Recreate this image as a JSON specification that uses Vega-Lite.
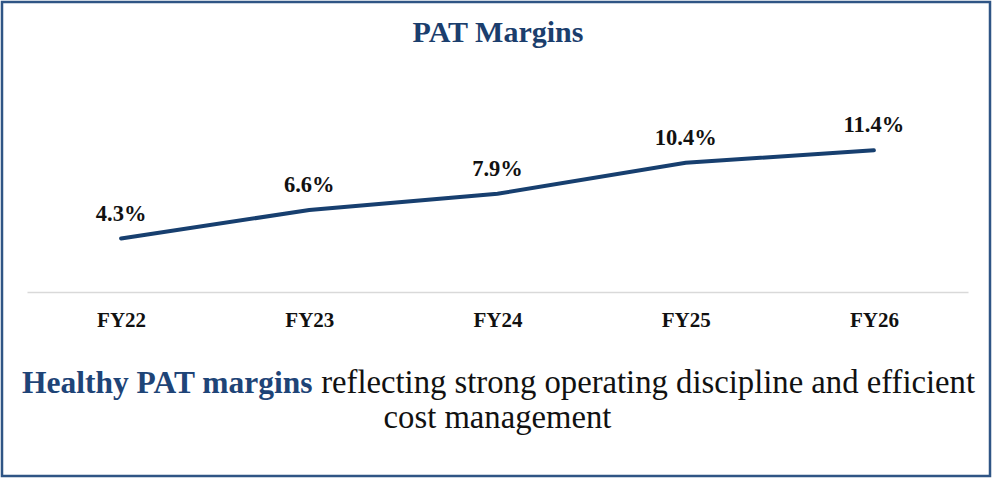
{
  "$schema": "https://vega.github.io/schema/vega-lite/v6.json",
  "width": 941,
  "height": 174,
  "autosize": "none",
  "padding": {"left": 27, "top": 118, "right": 24, "bottom": 186},
  "background": "white",
  "config": {"view": {"stroke": null}},
  "data": {"values": [
    {"year": "FY22", "pat": 0.043},
    {"year": "FY23", "pat": 0.066},
    {"year": "FY24", "pat": 0.079},
    {"year": "FY25", "pat": 0.104},
    {"year": "FY26", "pat": 0.114}
  ]},
  "layer": [
    {
      "data": {"values": [{}]},
      "mark": {"type": "rect", "filled": false, "stroke": "#2f5585", "strokeWidth": 2.5},
      "encoding": {"x": {"value": -25}, "x2": {"value": 963}, "y": {"value": -116}, "y2": {"value": 358}}
    },
    {
      "mark": {"type": "line", "color": "#173f6f", "strokeWidth": 4, "strokeCap": "round"},
      "encoding": {
        "x": {"field": "year", "type": "nominal", "sort": null,
          "axis": {"title": null, "labelAngle": 0, "ticks": false, "grid": false, "domainColor": "#d9d9d9", "domainWidth": 1.5,
            "labelFont": "Liberation Serif", "labelFontWeight": "bold", "labelFontSize": 21, "labelColor": "#111111", "labelPadding": 17}},
        "y": {"field": "pat", "type": "quantitative", "scale": {"domain": [0, 0.14], "nice": false, "zero": true}, "axis": null}
      }
    },
    {
      "mark": {"type": "text", "dy": -18, "baseline": "alphabetic", "font": "Liberation Serif", "fontWeight": "bold", "fontSize": 22.5, "color": "#111111"},
      "encoding": {
        "x": {"field": "year", "type": "nominal", "sort": null},
        "y": {"field": "pat", "type": "quantitative"},
        "text": {"field": "pat", "type": "quantitative", "format": ".1%"}
      }
    },
    {
      "data": {"values": [{"t": "PAT Margins"}]},
      "mark": {"type": "text", "align": "center", "baseline": "alphabetic", "font": "Liberation Serif", "fontWeight": "bold", "fontSize": 30, "color": "#1b3e6d"},
      "encoding": {"x": {"value": 471}, "y": {"value": -76}, "text": {"field": "t"}}
    },
    {
      "data": {"values": [{"t": "Healthy PAT margins"}]},
      "mark": {"type": "text", "align": "left", "baseline": "alphabetic", "font": "Liberation Serif", "fontWeight": "bold", "fontSize": 31.5, "color": "#1e4477"},
      "encoding": {"x": {"value": -5}, "y": {"value": 275}, "text": {"field": "t"}}
    },
    {
      "data": {"values": [{"t": "reflecting strong operating discipline and efficient"}]},
      "mark": {"type": "text", "align": "right", "baseline": "alphabetic", "font": "Liberation Serif", "fontSize": 32.7, "color": "#111111"},
      "encoding": {"x": {"value": 948}, "y": {"value": 275}, "text": {"field": "t"}}
    },
    {
      "data": {"values": [{"t": "cost management"}]},
      "mark": {"type": "text", "align": "center", "baseline": "alphabetic", "font": "Liberation Serif", "fontSize": 32.7, "color": "#111111"},
      "encoding": {"x": {"value": 470.5}, "y": {"value": 310}, "text": {"field": "t"}}
    }
  ]
}
